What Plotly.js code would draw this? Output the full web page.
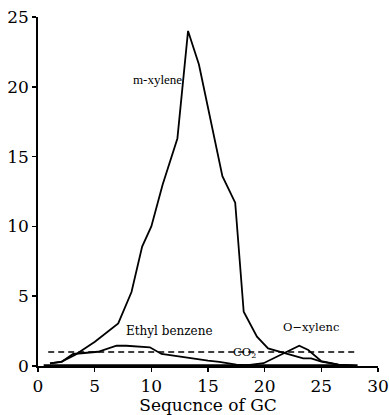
<!DOCTYPE html>
<html><head><meta charset="utf-8">
<script src="https://cdn.plot.ly/plotly-3.0.1.min.js"></script>
<style>html,body{margin:0;padding:0;background:#fff}#chart{width:389px;height:415px}</style>
</head><body><div id="chart"></div>
<script>
// m-xylene
const mxX = [1.06, 2.09, 3.26, 5.02, 7.08, 8.25, 9.19, 10.0, 11.0, 12.3, 13.24, 14.2, 16.27, 17.4, 18.15, 19.32, 20.3, 21.6, 23.4, 24.1, 25.0, 26.5, 28.1];
const mxY = [0.19, 0.31, 0.79, 1.74, 3.05, 5.3, 8.55, 10.0, 13.0, 16.3, 24.0, 21.6, 13.6, 11.7, 3.89, 2.1, 1.26, 0.95, 0.55, 0.55, 0.31, 0.1, 0.0];
// Ethyl benzene
const ebX = [1.06, 2.09, 3.1, 5.3, 6.93, 7.8, 9.87, 10.9, 15.0, 16.0, 17.5, 19.0];
const ebY = [0.19, 0.3, 0.86, 1.02, 1.45, 1.45, 1.34, 0.86, 0.38, 0.3, 0.1, 0.03];
// O-xylene
const oxX = [18.0, 19.9, 23.05, 23.85, 25.0, 26.5, 28.0];
const oxY = [0.0, 0.2, 1.45, 1.15, 0.35, 0.1, 0.0];
// CO2 level
const co2X = [0.9, 28.1];
const co2Y = [1.0, 1.0];
// baseline (overlapping zero series)
const baseX = [0.5, 28.2];
const baseY = [0, 0];
const xTicks = [0, 5, 10, 15, 20, 25, 30];
const yTicks = [0, 5, 10, 15, 20, 25];

const blk = '#000';
const traces = [
  {x: baseX, y: baseY, mode: 'lines', line: {color: blk, width: 3.5}},
  {x: co2X, y: co2Y, mode: 'lines', line: {color: blk, width: 1.6, dash: '6px,4px'}},
  {x: ebX, y: ebY, mode: 'lines', line: {color: blk, width: 1.8}},
  {x: oxX, y: oxY, mode: 'lines', line: {color: blk, width: 1.8}},
  {x: mxX, y: mxY, mode: 'lines', line: {color: blk, width: 1.8}}
];
const serif = 'DejaVu Serif';
const layout = {
  width: 389, height: 415,
  margin: {l: 38, r: 11, t: 17, b: 49},
  paper_bgcolor: '#fff', plot_bgcolor: '#fff',
  showlegend: false,
  xaxis: {range: [0, 30], tickvals: xTicks, ticks: 'outside', ticklen: 4, tickwidth: 1.5, tickcolor: blk,
    showline: true, linecolor: blk, linewidth: 1.6, showgrid: false, zeroline: false,
    tickfont: {family: serif, size: 17, color: blk},
    title: {text: 'Sequcnce of GC', font: {family: serif, size: 17, color: blk}, standoff: 4}},
  yaxis: {range: [0, 25], tickvals: yTicks, ticks: 'outside', ticklen: 4, tickwidth: 1.5, tickcolor: blk,
    showline: true, linecolor: blk, linewidth: 1.8, showgrid: false, zeroline: false,
    tickfont: {family: serif, size: 17, color: blk}, ticklabelstandoff: 0},
  annotations: [
    {x: 10.5, y: 20.5, text: 'm-xylene', showarrow: false, font: {family: 'Liberation Serif', size: 13, color: blk}},
    {x: 11.6, y: 2.5, text: 'Ethyl benzene', showarrow: false, font: {family: serif, size: 12, color: blk}},
    {x: 24.1, y: 2.8, text: 'O\u2212xylenc', showarrow: false, font: {family: serif, size: 11.5, color: blk}},
    {x: 18.2, y: 0.95, text: 'CO<sub>2</sub>', showarrow: false, font: {family: serif, size: 11.5, color: blk}}
  ]
};
Plotly.newPlot('chart', traces, layout, {displayModeBar: false, staticPlot: true});
</script></body></html>
